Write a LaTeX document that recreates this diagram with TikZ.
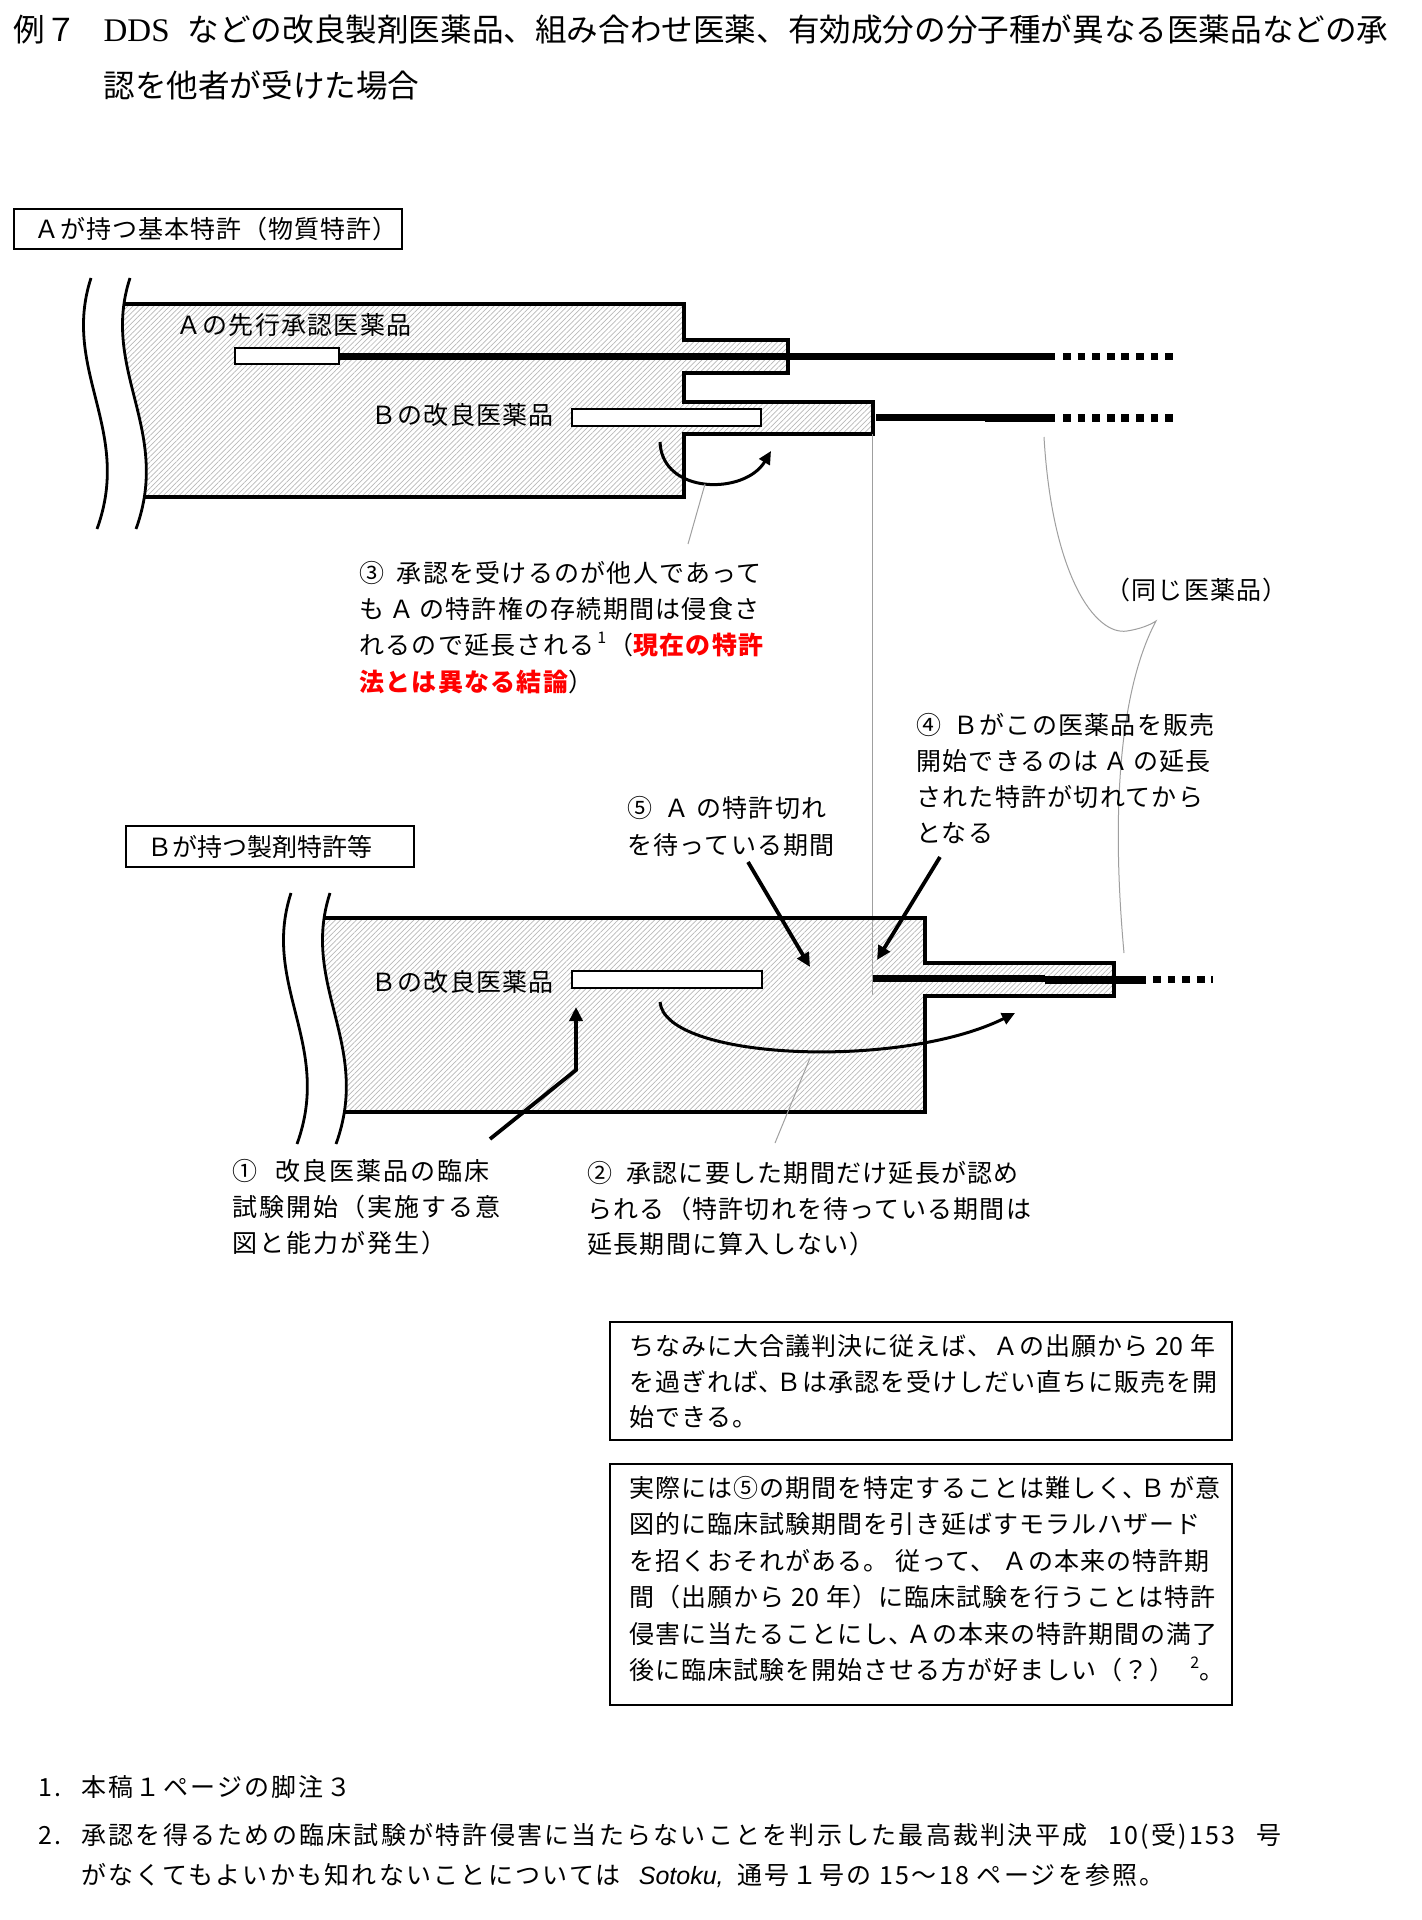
\documentclass[tikz,border=0pt]{standalone}
\usepackage{fontspec}
\usetikzlibrary{arrows.meta,patterns.meta}
\newfontfamily\jp[LetterSpace=5]{Noto Sans CJK JP}
\newfontfamily\jpb[LetterSpace=4]{Noto Sans CJK JP}
\newfontfamily\jpw[LetterSpace=8]{Noto Sans CJK JP}
\newfontfamily\jpn{Noto Sans CJK JP}
\newfontfamily\jpf[LetterSpace=9]{Noto Sans CJK JP}
\newfontfamily\serifL{Liberation Serif}
\newfontfamily\sansL{Liberation Sans}
\newcommand{\supnum}[1]{\raisebox{5.5pt}{\fontsize{8}{8}\selectfont #1}}
\begin{document}
\begin{tikzpicture}[x=0.5pt,y=-0.5pt,
  outline/.style={line width=1.65pt,line join=miter},
  hatch/.style={pattern={Lines[angle=45,distance=1.85pt,line width=0.35pt]},pattern color=gray!55},
  wave/.style={line width=1.4pt},
  dashdrug/.style={line width=3.6pt,dash pattern=on 3.9pt off 3.4pt},
  whitebox/.style={draw,fill=white,line width=0.8pt},
  leader/.style={draw=gray!75,line width=0.5pt},
  bigarrow/.style={line width=1.9pt,-{Triangle[length=7pt,width=6.5pt]}},
  curvarrow/.style={line width=1.5pt,-{Triangle[length=6.5pt,width=6pt]}},
  labelbox/.style={draw,line width=1pt,inner sep=0pt,font=\jpn\fontsize{12.5}{15}\selectfont,text height=11pt,text depth=1.5pt},
  txt/.style={anchor=west,inner sep=0pt,font=\jp\fontsize{12.5}{15}\selectfont,text height=11pt,text depth=1.5pt},
  txtb/.style={txt,font=\jpb\fontsize{12.5}{15}\selectfont},
  txtw/.style={txt,font=\jpw\fontsize{12.5}{15}\selectfont},
  txtf/.style={txt,font=\jpf\fontsize{12.5}{15}\selectfont},
  titletxt/.style={anchor=west,inner sep=0pt,font=\jpn\fontsize{15.8}{19}\selectfont,text height=13.9pt,text depth=1.9pt},
  bigbox/.style={line width=1.2pt}
]
\fill[white] (0,0) rectangle (1421,1920);
\useasboundingbox (0,0) rectangle (1421,1920);

% ---------- title ----------
\node[titletxt] (title1) at (13,30) {例７\hspace{13.5pt}{\serifL\fontsize{16.5}{19}\selectfont DDS}\hspace{9pt}などの改良製剤医薬品、組み合わせ医薬、有効成分の分子種が異なる医薬品などの承};
\node[titletxt] (title2) at (103,86) {認を他者が受けた場合};

% ---------- box A ----------
\node[labelbox,font=\jpb\fontsize{12.5}{15}\selectfont,minimum width=194pt,minimum height=20pt] (boxA) at (208,229) {\hspace*{8pt}Ａが持つ基本特許（物質特許）};

% ---------- upper body ----------
\begin{scope}
\clip (130,278) .. controls (100,370) and (172,430) .. (136,529) -- (1421,529) -- (1421,278) -- cycle;
\fill[hatch] (60,304) -- (684,304) -- (684,340) -- (788,340) -- (788,373) -- (684,373) -- (684,402) -- (873,402) -- (873,434) -- (684,434) -- (684,497) -- (60,497) -- cycle;
\draw[outline] (60,304) -- (684,304) -- (684,340) -- (788,340) -- (788,373) -- (684,373) -- (684,402) -- (873,402) -- (873,434) -- (684,434) -- (684,497) -- (60,497);
\end{scope}
\draw[wave] (130,278) .. controls (100,370) and (172,430) .. (136,529);
\draw[wave] (91,278) .. controls (61,370) and (133,430) .. (97,529);

% drug lines upper
\coordinate (uA1) at (339,356.5);
\coordinate (uA2) at (1055,356.5);
\coordinate (uA3) at (1063,356.5);
\coordinate (uA4) at (1174,356.5);
\draw[line width=3.3pt] (uA1) -- (uA2);
\draw[dashdrug] (uA3) -- (uA4);
\coordinate (uB1) at (876,417.5);
\coordinate (uB2) at (985,417.5);
\coordinate (uB3) at (985,418);
\coordinate (uB4) at (1055,418);
\coordinate (uB5) at (1063,418);
\coordinate (uB6) at (1174,418);
\draw[line width=3.3pt] (uB1) -- (uB2);
\draw[line width=3.8pt] (uB3) -- (uB4);
\draw[dashdrug] (uB5) -- (uB6);
\draw[whitebox] (235,348) rectangle (339,364);
\draw[whitebox] (572,409) rectangle (761,426);

\node[txt] (lblA) at (176,325) {Ａの先行承認医薬品};
\node[txt] (lblB1) at (371,415) {Ｂの改良医薬品};

% curved arrow 3
\coordinate (c3s) at (660,442);
\coordinate (c3e) at (771,451);
\draw[curvarrow] (c3s) .. controls (662,495) and (745,495) .. (c3e);
\coordinate (l3a) at (705,484);
\coordinate (l3b) at (688,544);
\draw[leader] (l3a) -- (l3b);

% vertical gray line
\coordinate (v1) at (872,434);
\coordinate (v2) at (872,995);
\draw[leader] (v1) -- (v2);

% brace
\coordinate (br1) at (1044,437);
\coordinate (brc) at (1156,621);
\coordinate (br2) at (1124,953);
\draw[leader] (br1) .. controls (1052,575) and (1095,636) .. (1127,631) .. controls (1140,629) and (1150,625) .. (brc) .. controls (1122,685) and (1110,800) .. (br2);
\node[txt] (same) at (1105,590) {（同じ医薬品）};

% text 3
\node[txt] (t3a) at (359,573) {③\hspace{6.25pt}承認を受けるのが他人であって};
\node[txt] (t3b) at (359,609) {も\hspace{2.5pt}Ａ\hspace{2.5pt}の特許権の存続期間は侵食さ};
\node[txt] (t3c) at (359,645) {れるので延長される\hspace{1.5pt}\supnum{1}\hspace{1pt}（\textcolor{red}{\bfseries 現在の特許}};
\node[txt] (t3d) at (359,682) {\textcolor{red}{\bfseries 法とは異なる結論}）};

% text 4
\node[txt] (t4a) at (916,725) {④\hspace{6pt}Ｂがこの医薬品を販売};
\node[txt] (t4b) at (916,761) {開始できるのは\hspace{2.5pt}Ａ\hspace{2.5pt}の延長};
\node[txt] (t4c) at (916,797) {された特許が切れてから};
\node[txt] (t4d) at (916,833) {となる};

% text 5
\node[txt] (t5a) at (627,808) {⑤\hspace{6pt}Ａ の特許切れ};
\node[txt] (t5b) at (627,845) {を待っている期間};

% ---------- box B ----------
\node[labelbox,anchor=north west,minimum height=20.5pt,inner xsep=10.5pt,text width=123pt,align=left] (boxB) at (125,825) {Ｂが持つ製剤特許等};

% ---------- lower body ----------
\begin{scope}
\clip (330,893) .. controls (300,985) and (372,1045) .. (336,1144) -- (1421,1144) -- (1421,893) -- cycle;
\fill[hatch] (260,918) -- (925,918) -- (925,963) -- (1114,963) -- (1114,996) -- (925,996) -- (925,1112) -- (260,1112) -- cycle;
\draw[outline] (260,918) -- (925,918) -- (925,963) -- (1114,963) -- (1114,996) -- (925,996) -- (925,1112) -- (260,1112);
\end{scope}
\draw[wave] (330,893) .. controls (300,985) and (372,1045) .. (336,1144);
\draw[wave] (291,893) .. controls (261,985) and (333,1045) .. (297,1144);

\coordinate (lA1) at (873,978.5);
\coordinate (lA2) at (1045,978.5);
\coordinate (lA3) at (1045,979.5);
\coordinate (lA4) at (1146,979.5);
\coordinate (lA5) at (1153,979.5);
\coordinate (lA6) at (1213,979.5);
\draw[line width=3.2pt] (lA1) -- (lA2);
\draw[line width=4pt] (lA3) -- (lA4);
\draw[dashdrug] (lA5) -- (lA6);
\draw[whitebox] (572,971) rectangle (762,988);
\node[txt] (lblB2) at (371,982) {Ｂの改良医薬品};

% arrows lower
\coordinate (a1s) at (490,1139);
\coordinate (a1m) at (576,1070);
\coordinate (a1e) at (576,1007);
\draw[bigarrow] (a1s) -- (a1m) -- (a1e);
\coordinate (a5s) at (748,862);
\coordinate (a5e) at (810,967);
\draw[bigarrow] (a5s) -- (a5e);
\coordinate (a4s) at (940,857);
\coordinate (a4e) at (877,960);
\draw[bigarrow] (a4s) -- (a4e);
\coordinate (c2s) at (660,1002);
\coordinate (c2e) at (1015,1013);
\draw[curvarrow] (c2s) .. controls (665,1060) and (900,1070) .. (c2e);
\coordinate (l2a) at (810,1058);
\coordinate (l2b) at (775,1143);
\draw[leader] (l2a) -- (l2b);

% text 1
\node[txtw] (t1a) at (232,1171) {①\hspace{9pt}改良医薬品の臨床};
\node[txtw] (t1b) at (232,1207) {試験開始（実施する意};
\node[txtw] (t1c) at (232,1243) {図と能力が発生）};

% text 2
\node[txt] (t2a) at (587,1173) {②\hspace{7pt}承認に要した期間だけ延長が認め};
\node[txt] (t2b) at (587,1209) {られる（特許切れを待っている期間は};
\node[txt] (t2c) at (587,1244) {延長期間に算入しない）};

% ---------- bottom boxes ----------
\draw[bigbox] (610,1322) rectangle (1232,1440);
\node[txtb] (b1a) at (629,1346) {ちなみに大合議判決に従えば、Ａの出願から 20 年};
\node[txtb] (b1b) at (629,1382) {を過ぎれば\makebox[7pt][l]{、}\hspace{2pt}Ｂは承認を受けしだい直ちに販売を開};
\node[txtb] (b1c) at (629,1417) {始できる。};

\draw[bigbox] (610,1464) rectangle (1232,1705);
\node[txtb] (b2a) at (629,1488) {実際には⑤の期間を特定することは難しく\makebox[6.25pt][l]{、}\hspace{3pt}Ｂ\hspace{2pt}が意};
\node[txtb] (b2b) at (629,1524) {図的に臨床試験期間を引き延ばすモラルハザード};
\node[txtb] (b2c) at (629,1561) {を招くおそれがある。 従って、 Ａの本来の特許期};
\node[txtb] (b2d) at (629,1597) {間（出願から 20 年）に臨床試験を行うことは特許};
\node[txtb] (b2e) at (629,1634) {侵害に当たることにし\makebox[6.25pt][l]{、}\hspace{3pt}Ａの本来の特許期間の満了};
\node[txtb] (b2f) at (629,1670) {後に臨床試験を開始させる方が好ましい（？）\hspace{8pt}\supnum{2}。};

% ---------- footnotes ----------
\node[txtf] (fn1n) at (38,1787) {1.};
\node[txtf] (fn1) at (81,1787) {本稿１ページの脚注３};
\node[txtf] (fn2n) at (38,1835) {2.};
\node[txtf] (fn2a) at (81,1835) {承認を得るための臨床試験が特許侵害に当たらないことを判示した最高裁判決平成\hspace{10.5pt}10(受)153\hspace{10.5pt}号};
\node[txtf] (fn2b) at (81,1875) {がなくてもよいかも知れないことについては\hspace{9pt}{\sansL\itshape Sotoku,}\hspace{7pt}通号１号の 15〜18 ページを参照。};
\end{tikzpicture}
\end{document}
